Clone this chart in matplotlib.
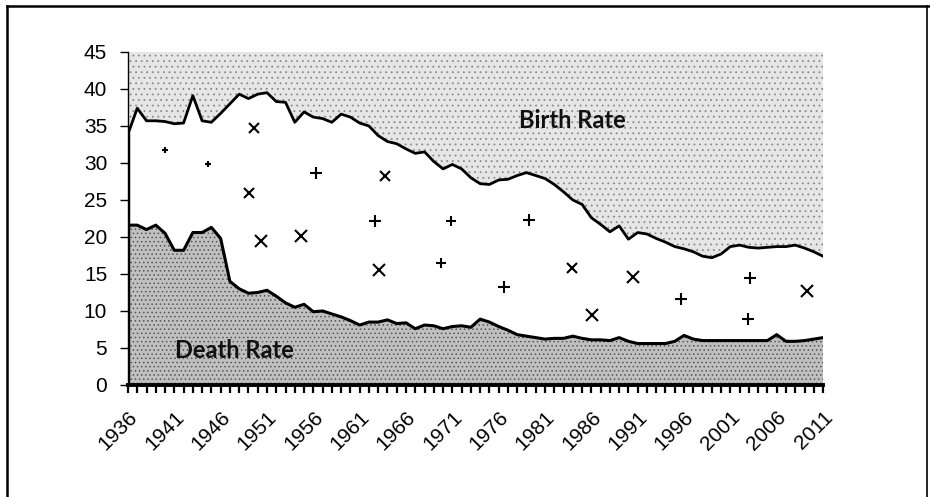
import numpy as np
import matplotlib
matplotlib.use("Agg")
from matplotlib import pyplot as plt
from matplotlib.lines import Line2D

# Data (per 1,000 population)
years = list(range(1936, 2012))
birth_rate = [33.9, 37.4, 35.7, 35.7, 35.6, 35.3, 35.4, 39.1, 35.7, 35.5,
              36.7, 38.0, 39.3, 38.7, 39.3, 39.5, 38.3, 38.2, 35.5, 36.9,
              36.2, 36.0, 35.5, 36.6, 36.2, 35.4, 35.0, 33.7, 32.9, 32.6,
              31.9, 31.3, 31.5, 30.2, 29.2, 29.8, 29.2, 28.0, 27.2, 27.1,
              27.7, 27.8, 28.3, 28.7, 28.3, 27.9, 27.1, 26.1, 25.0, 24.4,
              22.6, 21.7, 20.7, 21.5, 19.7, 20.6, 20.4, 19.8, 19.3, 18.7,
              18.4, 18.0, 17.4, 17.2, 17.7, 18.7, 18.9, 18.6, 18.5, 18.6,
              18.7, 18.7, 18.9, 18.5, 18.0, 17.4]
death_rate = [21.6, 21.6, 21.0, 21.6, 20.5, 18.2, 18.2, 20.6, 20.6, 21.3,
              19.8, 14.0, 13.0, 12.4, 12.5, 12.8, 12.0, 11.1, 10.5, 10.9,
              9.9, 10.0, 9.6, 9.2, 8.7, 8.1, 8.5, 8.5, 8.8, 8.3,
              8.4, 7.6, 8.1, 8.0, 7.6, 7.9, 8.0, 7.8, 8.9, 8.5,
              7.9, 7.4, 6.8, 6.6, 6.4, 6.2, 6.3, 6.3, 6.6, 6.3,
              6.1, 6.1, 6.0, 6.4, 5.9, 5.6, 5.6, 5.6, 5.6, 5.9,
              6.7, 6.2, 6.0, 6.0, 6.0, 6.0, 6.0, 6.0, 6.0, 6.0,
              6.8, 5.9, 5.9, 6.0, 6.2, 6.4]

# scribbles on the scan (pen marks in the white band)
mark_x = [1940.0, 1944.6, 1949.6, 1949.1, 1950.4, 1954.7, 1956.3, 1963.7, 1962.7, 1963.1,
          1970.9, 1969.8, 1979.3, 1976.6, 1983.9, 1986.1, 1990.5, 1995.7, 2003.1, 2002.9, 2009.3]
mark_y = [31.7, 29.9, 34.7, 26.0, 19.4, 20.1, 28.6, 28.3, 22.2, 15.6,
          22.1, 16.5, 22.3, 13.2, 15.8, 9.5, 14.6, 11.6, 14.5, 8.9, 12.7]
mark_kind = ['+', '+', 'x', 'x', 'x', 'x', '+', 'x', '+', 'x',
             '+', '+', '+', '+', 'x', 'x', 'x', '+', '+', '+', 'x']
mark_size = [4, 4, 7, 7, 8, 8, 8, 7, 8, 8,
             7, 7, 8, 9, 7, 8, 8, 8, 9, 8, 8]

plt.rcParams['font.family'] = ['Liberation Sans', 'DejaVu Sans']
plt.rcParams['hatch.linewidth'] = 0.6

fig = plt.figure(figsize=(9.3, 4.97), dpi=100)
ax = fig.add_axes([0.1376, 0.2254, 0.885 - 0.1376, 0.8954 - 0.2254])

yr = np.array(years)
br = np.array(birth_rate)
dr = np.array(death_rate)

# upper stippled area: birth rate up to top of scale
ax.fill_between(yr, br, 45, facecolor='#e6e6e6', edgecolor='#8a8a8a',
                hatch='...', linewidth=0, zorder=1)
# lower stippled area: death rate down to zero
ax.fill_between(yr, 0, dr, facecolor='#c0c0c0', edgecolor='#555555',
                hatch='....', linewidth=0, zorder=1)

ax.plot(yr, br, color='black', lw=2.0, zorder=3)
ax.plot(yr, dr, color='black', lw=2.2, zorder=3)
ax.plot([1936, 1936], [0, br[0]], color='black', lw=2.5, zorder=3)

for x, y, k, s in zip(mark_x, mark_y, mark_kind, mark_size):
    ax.plot(x, y, marker=k, color='black', ms=s, mew=1.5, ls='none', zorder=4)

ax.text(1984, 35.8, 'Birth Rate', family=['Lato', 'DejaVu Sans'], fontweight='bold',
        fontsize=17, ha='center', va='center', color='#111111', zorder=5)
ax.text(1947.5, 4.6, 'Death Rate', family=['Lato', 'DejaVu Sans'], fontweight='bold',
        fontsize=17, ha='center', va='center', color='#111111', zorder=5)

ax.set_xlim(1936, 2011)
ax.set_ylim(0, 45)
ax.set_yticks(range(0, 46, 5))
ax.set_xticks(range(1936, 2012, 5))
ax.set_xticks(years, minor=True)
ax.set_xticklabels([str(y) for y in range(1936, 2012, 5)], rotation=45,
                   ha='right', rotation_mode='anchor', fontsize=15)
ax.tick_params(axis='y', labelsize=15, length=6, width=1.0, pad=9, color='black')
ax.tick_params(axis='x', which='both', length=6, width=1.6, pad=10, direction='out')

for s in ['top', 'right']:
    ax.spines[s].set_visible(False)
ax.spines['bottom'].set_linewidth(2.8)
ax.spines['left'].set_linewidth(1.0)
ax.set_axisbelow(False)

# outer frame of the scanned figure
fig.add_artist(Line2D([7 / 930, 7 / 930], [0, 1 - 6 / 497], color='black', lw=1.8))
fig.add_artist(Line2D([7 / 930, 1], [1 - 6 / 497, 1 - 6 / 497], color='black', lw=1.8))
fig.add_artist(Line2D([927 / 930, 927 / 930], [0, 1 - 6 / 497], color='black', lw=1.2))

fig.savefig('out.png', dpi=100)
